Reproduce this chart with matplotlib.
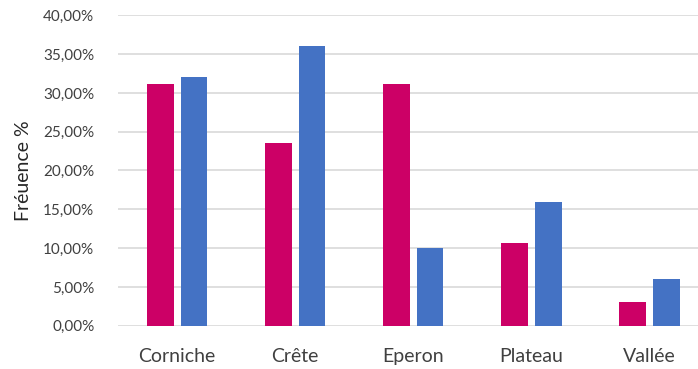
import numpy as np
import matplotlib
matplotlib.use('Agg')
import matplotlib.pyplot as plt
from matplotlib.ticker import FuncFormatter

plt.rcParams['font.family'] = ['Lato', 'DejaVu Sans']

# Fréquences par type de relief (fraction)
categories = ['Corniche', 'Crête', 'Eperon', 'Plateau', 'Vallée']
serie_rouge = [0.311, 0.236, 0.311, 0.107, 0.031]
serie_bleue = [0.320, 0.360, 0.100, 0.159, 0.060]

fig = plt.figure(figsize=(6.98, 3.69), dpi=100)
ax = fig.add_axes([118 / 698, 43.3 / 369, 580 / 698, 310.4 / 369])

x = np.arange(len(categories))
w = 0.225
gap = 0.03
ax.bar(x - w / 2 - gap, serie_rouge, w, color='#CC0066', zorder=3)
ax.bar(x + w / 2 + gap, serie_bleue, w, color='#4472C4', zorder=3)

ax.set_ylim(0, 0.40)
ax.set_yticks(np.arange(0, 0.401, 0.05))
ax.yaxis.set_major_formatter(FuncFormatter(lambda v, p: f'{v * 100:.2f}%'.replace('.', ',')))
ax.set_xlim(-0.5, 4.41)
ax.set_xticks(x)
ax.set_xticklabels(categories)

ax.grid(axis='y', color='#d9d9d9', linewidth=1.2, zorder=0)
for s in ax.spines.values():
    s.set_visible(False)
ax.tick_params(axis='both', length=0, colors='#404040')
ax.tick_params(axis='y', pad=17, labelsize=11)
ax.tick_params(axis='x', pad=16, labelsize=14)

ax.set_ylabel('Fréuence %', fontsize=14, color='#262626', labelpad=8)

fig.savefig('out.png', dpi=100)
